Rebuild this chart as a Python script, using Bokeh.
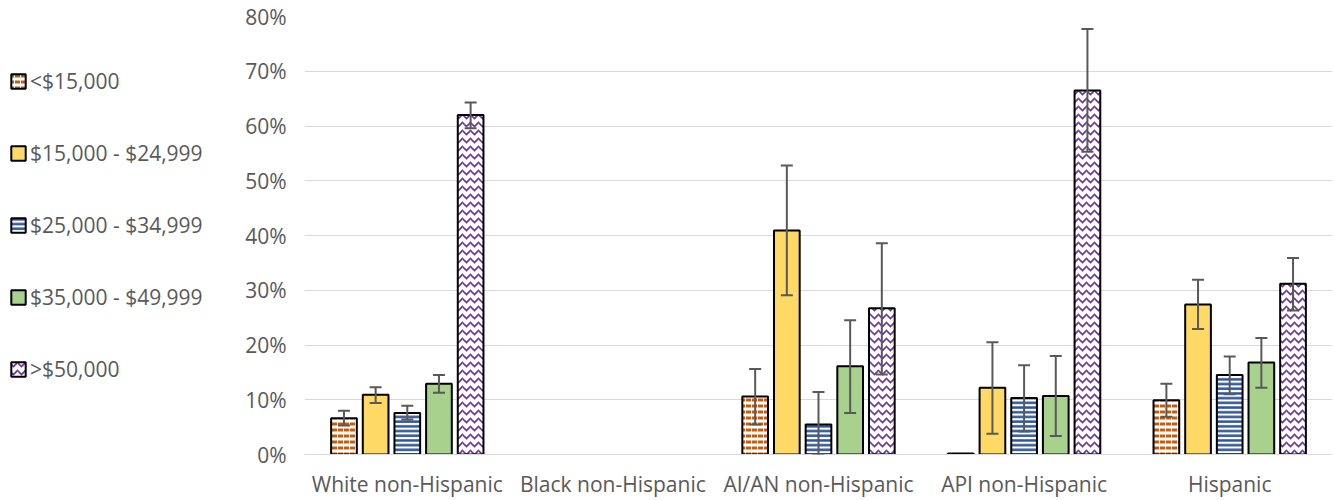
import math
from bokeh.plotting import figure
from bokeh.layouts import row
from bokeh.models import (ColumnDataSource, FactorRange, Range1d, Whisker, TeeHead, Legend, LegendItem,
                          PrintfTickFormatter, FixedTicker)
from bokeh.transform import dodge
from bokeh.embed import file_html
from bokeh.resources import INLINE

nan = float("nan")

categories = ["White non-Hispanic", "Black non-Hispanic", "AI/AN non-Hispanic", "API non-Hispanic", "Hispanic"]
series_names = ["<$15,000", "$15,000 - $24,999", "$25,000 - $34,999", "$35,000 - $49,999", ">$50,000"]

lt15 = [6.6, nan, 10.6, 0.2, 9.9]
lt15_lo = [5.3, nan, 5.5, nan, 6.9]
lt15_hi = [8.0, nan, 15.6, nan, 12.9]

r15_25 = [10.9, nan, 40.9, 12.2, 27.4]
r15_25_lo = [9.4, nan, 29.1, 3.8, 22.9]
r15_25_hi = [12.3, nan, 52.8, 20.5, 31.9]

r25_35 = [7.6, nan, 5.5, 10.3, 14.5]
r25_35_lo = [6.4, nan, 0.0, 4.2, 11.0]
r25_35_hi = [8.9, nan, 11.4, 16.3, 17.9]

r35_50 = [12.9, nan, 16.1, 10.7, 16.8]
r35_50_lo = [11.3, nan, 7.6, 3.4, 12.2]
r35_50_hi = [14.5, nan, 24.5, 18.0, 21.3]

gt50 = [62.0, nan, 26.7, 66.5, 31.2]
gt50_lo = [59.6, nan, 14.6, 55.3, 26.3]
gt50_hi = [64.3, nan, 38.6, 77.7, 35.9]

y_ticks = [0, 10, 20, 30, 40, 50, 60, 70, 80]

series = [
    (lt15, lt15_lo, lt15_hi),
    (r15_25, r15_25_lo, r15_25_hi),
    (r25_35, r25_35_lo, r25_35_hi),
    (r35_50, r35_50_lo, r35_50_hi),
    (gt50, gt50_lo, gt50_hi),
]

FONT = "Open Sans"
FSIZE = "21px"
TXT = "#595959"

styles = [
    dict(fill_color="white", hatch_pattern="horizontal_dash", hatch_color="#C55A11",
         hatch_scale=6, hatch_weight=3),
    dict(fill_color="#FFD966"),
    dict(fill_color="white", hatch_pattern="horizontal_line", hatch_color="#2F5597",
         hatch_scale=4.7, hatch_weight=2.5),
    dict(fill_color="#A9D18E"),
    dict(fill_color="white", hatch_pattern="horizontal_wave", hatch_color="#7030A0",
         hatch_scale=8, hatch_weight=1.6),
]

offsets = [-0.308, -0.154, 0.0, 0.154, 0.308]
bar_w = 0.125

LEG_W = 230
TOTAL_W = 1332
H = 500

# main chart
p = figure(x_range=FactorRange(*categories, range_padding=0), y_range=(0, 80),
           width=TOTAL_W - LEG_W, height=H, output_backend="svg", toolbar_location=None,
           min_border_left=304 - LEG_W, min_border_right=0, min_border_top=16, min_border_bottom=H - 456)

# legend panel (keys only; its range holds none of the categories, so no bar is drawn there)
lg = figure(x_range=FactorRange("key"), y_range=Range1d(0, 80),
            width=LEG_W, height=H, output_backend="svg", toolbar_location=None,
            min_border_left=0, min_border_right=0, min_border_top=16, min_border_bottom=H - 456)
lg.axis.visible = False
lg.grid.visible = False
lg.outline_line_color = None

items = []
for i, (vals, lo, hi) in enumerate(series):
    src = ColumnDataSource(dict(cat=categories, val=vals, lo=lo, hi=hi))
    p.vbar(x=dodge("cat", offsets[i], range=p.x_range), top="val", width=bar_w, bottom=0,
           source=src, line_color="black", line_width=2, **styles[i])
    w = Whisker(base=dodge("cat", offsets[i], range=p.x_range), lower="lo", upper="hi", source=src,
                line_color="#595959", line_width=2, level="annotation",
                upper_head=TeeHead(size=12, line_color="#595959", line_width=2),
                lower_head=TeeHead(size=12, line_color="#595959", line_width=2))
    p.add_layout(w)
    r = lg.vbar(x="cat", top="val", width=bar_w, bottom=0, source=src,
                line_color="black", line_width=2, **styles[i])
    items.append(LegendItem(label=series_names[i], renderers=[r], index=0))

legend = Legend(items=items, location=(9, 70), padding=0, margin=0, spacing=42,
                glyph_width=18, glyph_height=18, label_height=30, label_standoff=3,
                label_text_font=FONT, label_text_font_size=FSIZE, label_text_color=TXT,
                border_line_color=None, background_fill_alpha=0)
lg.add_layout(legend, "center")

p.outline_line_color = None
p.xgrid.grid_line_color = None
p.ygrid.grid_line_color = "#d9d9d9"
p.ygrid.grid_line_width = 1
p.yaxis.ticker = FixedTicker(ticks=y_ticks)
p.yaxis.formatter = PrintfTickFormatter(format="%d%%")
p.yaxis.axis_line_color = None
p.yaxis.major_tick_line_color = None
p.yaxis.minor_tick_line_color = None
p.yaxis.major_tick_out = 0
p.yaxis.major_label_standoff = 18
p.xaxis.axis_line_color = "#d9d9d9"
p.xaxis.major_tick_line_color = None
p.xaxis.major_tick_out = 0
p.xaxis.major_label_standoff = 15
for ax in (p.xaxis, p.yaxis):
    ax.major_label_text_font = FONT
    ax.major_label_text_font_size = FSIZE
    ax.major_label_text_color = TXT

layout = row(lg, p)
open("out.html", "w").write(file_html(layout, INLINE))
